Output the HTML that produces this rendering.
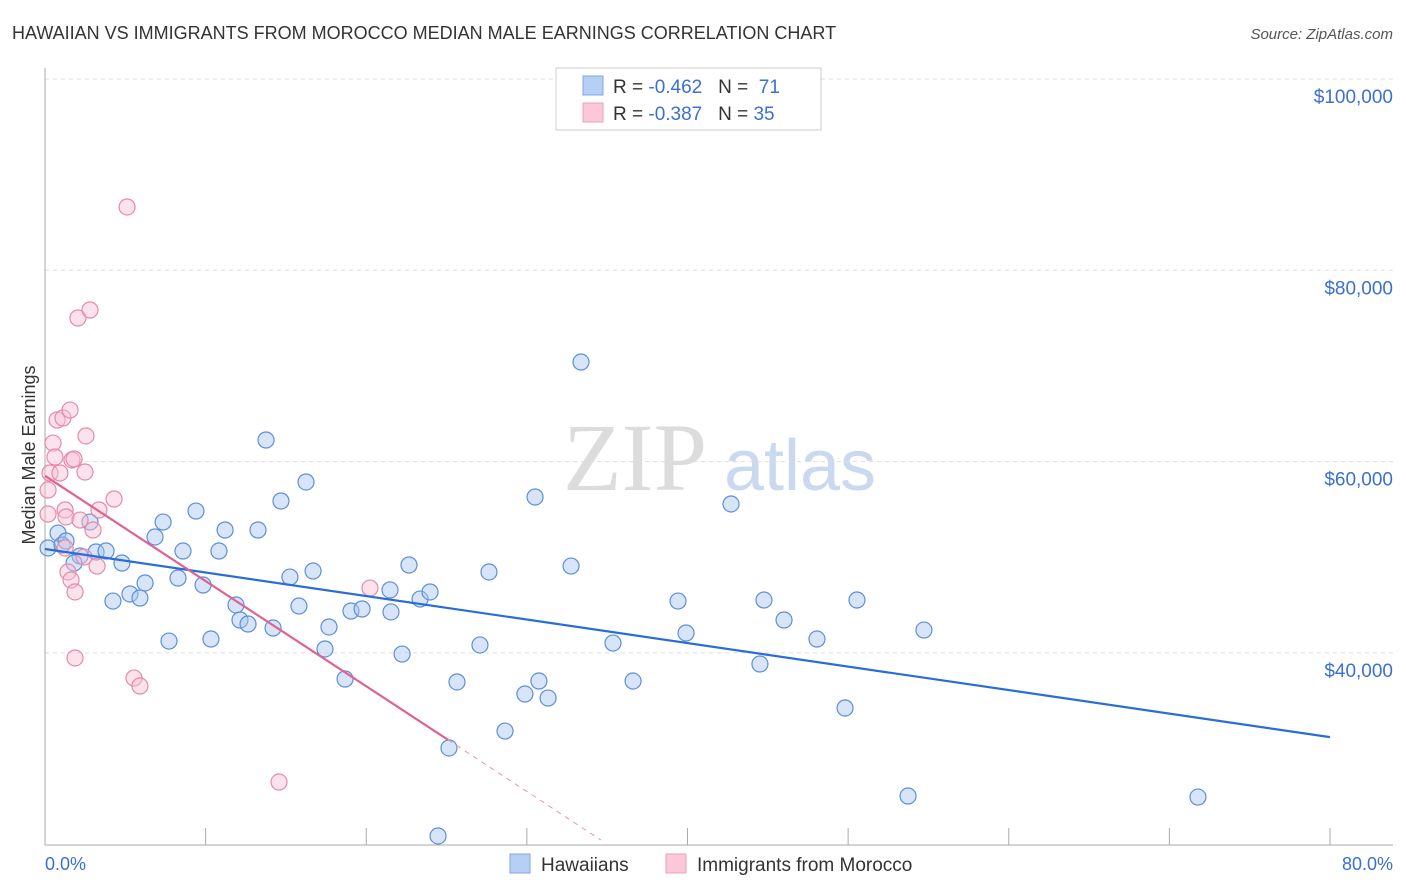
<!DOCTYPE html>
<html><head><meta charset="utf-8"><style>
body{margin:0;background:#fff;font-family:"Liberation Sans",sans-serif;}
svg{display:block}
</style></head><body>
<svg id="c" width="1406" height="892">
<text x="12" y="39" font-size="18" fill="#333">HAWAIIAN VS IMMIGRANTS FROM MOROCCO MEDIAN MALE EARNINGS CORRELATION CHART</text>
<text x="1393" y="39" font-size="15" fill="#555" font-style="italic" text-anchor="end">Source: ZipAtlas.com</text>
<g>
<text x="635" y="490" font-size="96" font-family="Liberation Serif,serif" fill="#dcdcdc" text-anchor="middle">ZIP</text>
<text x="800" y="490" font-size="72" fill="#c9d9f0" text-anchor="middle">atlas</text>
</g>
<g id="grid"></g><g id="axes"></g><g id="marks"></g>
<text x="35" y="455" font-size="18" fill="#333" text-anchor="middle" transform="rotate(-90 35 455)" dy="0">Median Male Earnings</text>
<text x="45" y="870" font-size="18" fill="#3b6fd4">0.0%</text>
<text x="1393" y="870" font-size="18" fill="#3b6fd4" text-anchor="end">80.0%</text>
<g>
<rect x="556" y="68" width="265" height="62" fill="#fff" stroke="#ccc"/>
<rect x="583" y="76" width="20" height="19" fill="#b5cff5" stroke="#7fa6e0"/>
<rect x="583" y="103" width="20" height="19" fill="#fac8d8" stroke="#eea0b8"/>
<text x="613" y="93" font-size="19" fill="#333">R = <tspan fill="#3b6fd4">-0.462</tspan>&#160;&#160;&#160;N = &#160;<tspan fill="#3b6fd4">71</tspan></text>
<text x="613" y="120" font-size="19" fill="#333">R = <tspan fill="#3b6fd4">-0.387</tspan>&#160;&#160;&#160;N = <tspan fill="#3b6fd4">35</tspan></text>
</g>
<g>
<rect x="510" y="854" width="20" height="19" fill="#b5cff5" stroke="#7fa6e0"/>
<text x="541" y="871" font-size="19" fill="#333">Hawaiians</text>
<rect x="666" y="854" width="20" height="19" fill="#fac8d8" stroke="#eea0b8"/>
<text x="697" y="871" font-size="19" fill="#333">Immigrants from Morocco</text>
</g>
</svg>
<script>
const yTicks=[40000,60000,80000,100000];
const yTickLabels=["$40,000","$60,000","$80,000","$100,000"];
const xTicks=[0,10,20,30,40,50,60,70,80];
const blueX=[0.19,0.81,1.06,1.31,2.18,2.80,3.18,3.80,1.81,4.79,4.23,5.29,5.91,6.23,6.85,7.35,7.72,8.28,8.59,9.40,9.84,10.33,10.83,11.21,11.89,12.14,12.64,13.26,13.76,14.20,14.69,15.25,15.81,16.25,16.69,17.43,17.68,18.68,19.05,19.74,21.48,21.54,22.23,22.66,23.35,23.97,24.47,25.15,25.65,27.08,27.64,28.64,29.88,30.51,30.75,31.32,32.75,33.37,35.36,36.61,39.41,39.91,42.71,44.51,44.76,46.01,48.06,49.81,50.55,53.73,54.72,71.78];
const blueY=[50.97,52.53,51.28,51.70,50.13,53.68,50.55,50.65,49.40,49.40,45.42,46.16,45.74,47.31,52.12,53.68,41.24,47.83,50.65,54.83,47.10,41.45,50.65,52.85,45.01,43.44,43.02,52.85,62.26,42.60,55.88,47.93,44.90,57.87,48.56,40.41,42.71,37.27,44.38,44.59,46.58,44.28,39.88,49.19,45.63,46.37,20.86,30.06,36.96,40.83,48.46,31.83,35.70,56.30,37.06,35.28,49.08,70.41,41.03,37.06,45.42,42.08,55.57,38.84,45.53,43.44,41.45,34.24,45.53,25.04,42.39,24.93];
const pinkX=[0.19,0.19,0.31,0.50,0.62,0.75,0.93,1.12,1.25,1.25,1.31,1.43,1.56,1.68,1.62,1.81,1.87,1.87,2.05,2.18,2.43,2.49,2.55,2.80,2.99,3.24,3.36,4.30,5.11,5.54,5.91,14.57,20.23];
const pinkY=[57.03,54.52,58.81,61.94,60.48,64.35,58.81,64.56,50.97,54.94,54.21,48.46,65.39,60.17,47.62,60.27,46.37,39.47,75.01,53.89,50.02,58.91,62.68,75.85,52.85,49.08,54.94,56.09,86.62,37.37,36.54,26.50,46.78];
const blueTrend=[50.86,-0.2458];
const pinkTrend=[58.51,-1.10];
const NS="http://www.w3.org/2000/svg";
const X=p=>45+p*16.0625;
const Y=v=>79+(100-v)*9.565; // v in thousands
function mk(t,a,parent){const e=document.createElementNS(NS,t);for(const k in a)e.setAttribute(k,a[k]);document.getElementById(parent).appendChild(e);return e;}
yTicks.forEach((t,i)=>{
 const g=mk('line',{x1:45,x2:1393,y1:Y(t/1000),y2:Y(t/1000),stroke:'#ddd','stroke-dasharray':'4,4'},'grid');
 
 
 const l=mk('text',{x:1393,y:Y(t/1000)+24,'font-size':19,fill:'#3b6fd4','text-anchor':'end'},'grid');
 l.textContent=yTickLabels[i];
 
 
});
const ya=mk('line',{x1:45,x2:45,y1:68,y2:845,stroke:'#aaa'},'axes');


const xa=mk('line',{x1:45,x2:1393,y1:845,y2:845,stroke:'#aaa'},'axes');


xTicks.forEach(t=>{
 const k=mk('line',{x1:X(t),x2:X(t),y1:828,y2:845,stroke:'#aaa'},'axes');
 
 
});
function pts(xs,ys,fill,stroke,name){
 xs.forEach((x,i)=>{
  const c=mk('circle',{cx:X(x),cy:Y(ys[i]),r:8,fill:fill,'fill-opacity':0.45,stroke:stroke,'stroke-width':1.2},'marks');
  
  
 });
}
pts(blueX,blueY,'#a9c6f0','#5b8fdc','hawaiians-point');
pts(pinkX,pinkY,'#f9c0d2','#e68aa8','morocco-point');
const bt=mk('line',{x1:X(0),y1:Y(blueTrend[0]),x2:X(80),y2:Y(blueTrend[0]+blueTrend[1]*80),stroke:'#2a6dd9','stroke-width':2.2},'marks');


const pt=mk('line',{x1:X(0),y1:Y(pinkTrend[0]),x2:X(25.09),y2:Y(pinkTrend[0]+pinkTrend[1]*25.09),stroke:'#e0628e','stroke-width':2.2},'marks');


const pd=mk('line',{x1:X(25.09),y1:Y(pinkTrend[0]+pinkTrend[1]*25.09),x2:X(34.6),y2:Y(pinkTrend[0]+pinkTrend[1]*34.6),stroke:'#e891ad','stroke-width':1,'stroke-dasharray':'5,5'},'marks');


</script>
</body></html>
